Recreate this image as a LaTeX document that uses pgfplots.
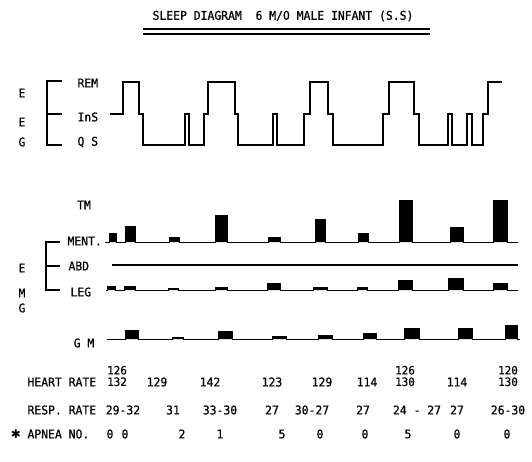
\documentclass[border=0pt]{standalone}
\usepackage{pgfplots}
\pgfplotsset{compat=1.18}
\usepackage{fontspec}
\setmainfont{DejaVu Sans Mono}[FakeStretch=0.95, FakeBold=0.6]
\newfontfamily\sym{DejaVu Sans}
\begin{document}
\begin{tikzpicture}[font=\fontsize{12}{14}\selectfont]
\begin{axis}[
  scale only axis, width=532pt, height=462pt,
  xmin=0, xmax=532, ymin=0, ymax=462, y dir=reverse,
  hide axis, clip=false,
  cycle list={{black,solid,mark=none}},
  every axis plot/.append style={line width=1.1pt},
]
\addplot[draw=none] coordinates {(0,0) (532,462)};
% title underline
\addplot[black] coordinates {(143,29) (430,29)};
\addplot[black] coordinates {(143,34) (430,34)};
% EEG bracket
\addplot[black] coordinates {(62,81) (47,81) (47,145) (62,145)};
\addplot[black] coordinates {(47,114) (62,114)};
% hypnogram
\addplot[black, const plot] coordinates {
(110,114) (123,82) (139,114) (143,145) (185,114) (189,145) (204,114) (208,82)
(235,114) (238,145) (273,114) (277,145) (304,114) (310,82) (328,114) (333,145)
(383,114) (389,82) (414,114) (419,145) (448,114) (452,145) (467,114) (472,145)
(483,114) (488,82) (502,82)};
% EMG bracket
\addplot[black] coordinates {(60,242) (46,242) (46,290) (60,290)};
\addplot[black] coordinates {(46,266) (60,266)};
% MENT
\addplot[black, fill=black, line width=1pt] coordinates {
(105,242) (109,242) (109,233) (116,233) (116,242) (125,242) (125,227) (135,227) (135,242)
(169,242) (169,237) (179,237) (179,242) (215,242) (215,216) (227,216) (227,242)
(268,242) (268,237) (280,237) (280,242) (315,242) (315,220) (325,220) (325,242)
(358,242) (358,233) (368,233) (368,242) (399,242) (399,201) (412,201) (412,242)
(450,242) (450,228) (463,228) (463,242) (493,242) (493,201) (507,201) (507,242) (518,242)};
% ABD
\addplot[black] coordinates {(112,265) (518,265)};
% LEG
\addplot[black, fill=black, line width=1pt] coordinates {
(106,290) (107,290) (107,286) (115,286) (115,290) (124,290) (124,286) (135,286) (135,290)
(168,290) (168,288) (178,288) (178,290) (215,290) (215,287) (227,287) (227,290)
(267,290) (267,283) (280,283) (280,290) (313,290) (313,287) (327,287) (327,290)
(357,290) (357,287) (367,287) (367,290) (398,290) (398,280) (412,280) (412,290)
(448,290) (448,278) (463,278) (463,290) (493,290) (493,283) (507,283) (507,290) (518,290)};
% GM
\addplot[black, fill=black, line width=1pt] coordinates {
(107,339) (125,339) (125,330) (138,330) (138,339) (172,339) (172,337) (183,337) (183,339)
(218,339) (218,331) (232,331) (232,339) (272,339) (272,336) (286,336) (286,339)
(318,339) (318,335) (332,335) (332,339) (363,339) (363,333) (376,333) (376,339)
(404,339) (404,328) (419,328) (419,339) (458,339) (458,328) (472,328) (472,339)
(505,339) (505,325) (517,325) (517,339) (520,339)};

% texts
\node at (axis cs:283,16) {SLEEP DIAGRAM\ \ 6 M/O MALE INFANT (S.S)};
\node at (axis cs:22,93) {E};
\node at (axis cs:22,122) {E};
\node at (axis cs:22,142) {G};
\node[anchor=west] at (axis cs:74,83) {REM};
\node[anchor=west] at (axis cs:74,117) {InS};
\node[anchor=west] at (axis cs:74,142) {Q S};
\node at (axis cs:84,205) {TM};
\node[anchor=west] at (axis cs:64,241) {MENT.};
\node[anchor=west] at (axis cs:65,266) {ABD};
\node[anchor=west] at (axis cs:67,292) {LEG};
\node at (axis cs:22,268) {E};
\node at (axis cs:22,293) {M};
\node at (axis cs:22,308) {G};
\node at (axis cs:84,343) {G M};
% heart rate
\node[anchor=west] at (axis cs:24,382) {HEART RATE};
\node[align=center, font=\fontsize{11.5}{11.5}\selectfont] at (axis cs:117,376) {126\\132};
\node[align=center, font=\fontsize{11.5}{11.5}\selectfont] at (axis cs:405,376) {126\\130};
\node[align=center, font=\fontsize{11.5}{11.5}\selectfont] at (axis cs:508,376) {120\\130};
\node at (axis cs:157,382) {129};
\node at (axis cs:210,382) {142};
\node at (axis cs:272,382) {123};
\node at (axis cs:322,382) {129};
\node at (axis cs:367,382) {114};
\node at (axis cs:457,382) {114};
% resp rate
\node[anchor=west] at (axis cs:24,410) {RESP. RATE};
\node at (axis cs:123,410) {29-32};
\node at (axis cs:173,410) {31};
\node at (axis cs:220,410) {33-30};
\node at (axis cs:272,410) {27};
\node at (axis cs:312,410) {30-27};
\node at (axis cs:363,410) {27};
\node at (axis cs:417,410) {24 - 27};
\node at (axis cs:457,410) {27};
\node at (axis cs:508,410) {26-30};
% apnea
\node at (axis cs:16,434) {\sym ✱};
\node[anchor=west] at (axis cs:24,434) {APNEA NO.};
\node at (axis cs:110,434) {0};
\node at (axis cs:125,434) {0};
\node at (axis cs:182,434) {2};
\node at (axis cs:220,434) {1};
\node at (axis cs:282,434) {5};
\node at (axis cs:320,434) {0};
\node at (axis cs:365,434) {0};
\node at (axis cs:408,434) {5};
\node at (axis cs:457,434) {0};
\node at (axis cs:507,434) {0};
\end{axis}
\end{tikzpicture}
\end{document}
